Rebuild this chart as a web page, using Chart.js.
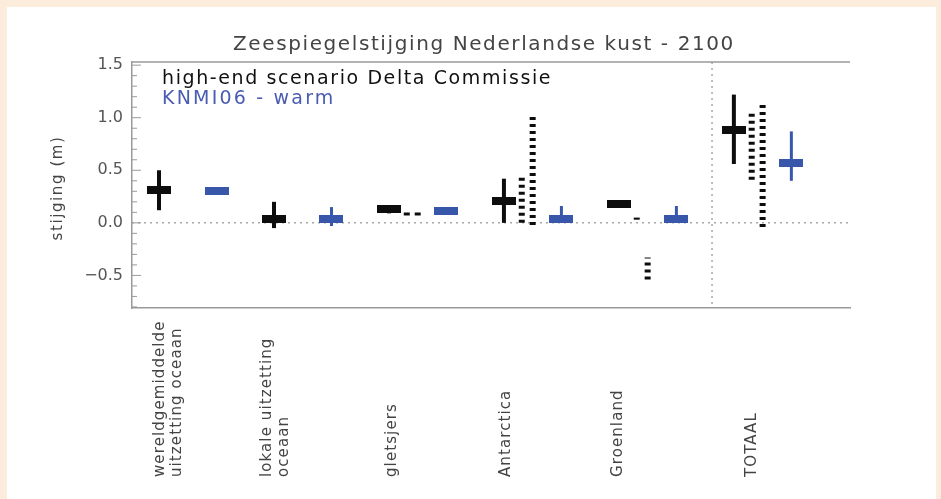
<!DOCTYPE html>
<html>
<head>
<meta charset="utf-8">
<script src="https://cdn.jsdelivr.net/npm/chart.js@4.4.1/dist/chart.umd.min.js"></script>
<style>
  html, body { margin: 0; padding: 0; background: #fcecdc; }
  #panel { position: absolute; left: 7px; top: 7px; width: 929px; height: 492px; background: #fff; }
</style>
</head>
<body>
<div id="panel"><canvas id="chart" width="929" height="492"></canvas></div>
<script>
// categories (two-line labels as arrays)
const categories = [
  ['wereldgemiddelde', 'uitzetting oceaan'],
  ['lokale uitzetting', 'oceaan'],
  ['gletsjers'],
  ['Antarctica'],
  ['Groenland'],
  ['TOTAAL']
];

// high-end scenario Delta Commissie: central value and range (m)
const deltaMid  = [0.31, 0.04, 0.13, 0.21, 0.18, 0.88];
const deltaLow  = [0.12, -0.05, 0.09, 0.00, 0.16, 0.56];
const deltaHigh = [0.50, 0.20, 0.17, 0.42, 0.20, 1.22];

// KNMI06 - warm: central value and range (m)
const knmiMid  = [0.30, 0.04, 0.11, 0.04, 0.04, 0.57];
const knmiLow  = [0.27, -0.03, 0.08, 0.00, 0.00, 0.40];
const knmiHigh = [0.34, 0.15, 0.14, 0.16, 0.16, 0.87];

// dotted columns next to the Delta values (two per category)
const dashLow1  = [null, null, 0.07, 0.00, 0.03, 0.41];
const dashHigh1 = [null, null, 0.13, 0.46, 0.05, 1.07];
const dashLow2  = [null, null, 0.07, -0.02, -0.54, -0.04];
const dashHigh2 = [null, null, 0.13, 1.04, -0.33, 1.15];

const yTickValues = [-0.5, 0.0, 0.5, 1.0, 1.5];

const title = 'Zeespiegelstijging Nederlandse kust - 2100';
const legendDelta = 'high-end scenario Delta Commissie';
const legendKnmi = 'KNMI06 - warm';
const yTitle = 'stijging (m)';

// layout / style
const BLACK = '#0d0d0d';
const BLUE = '#3857ab';
const FONT = '"DejaVu Sans", sans-serif';
const labelShift = [0.08, 0.01, 0.03, 0.02, -0.01, 0.16];
const separatorAt = 4.81;

function markerImage(color) {
  const c = document.createElement('canvas');
  c.width = 24; c.height = 8;
  const g = c.getContext('2d');
  g.fillStyle = color;
  g.fillRect(0, 0, 24, 8);
  return c;
}

function rangeLine(x, lo, hi, color, width, dash, order) {
  return {
    type: 'line',
    data: [{x: x, y: lo}, {x: x, y: hi}],
    showLine: true,
    borderColor: color,
    borderWidth: width,
    borderDash: dash || [],
    borderCapStyle: 'butt',
    pointRadius: 0,
    order: order
  };
}

const datasets = [];
categories.forEach((c, i) => {
  datasets.push(rangeLine(i, deltaLow[i], deltaHigh[i], BLACK, 4, null, 1));
  datasets.push(rangeLine(i + 0.5, knmiLow[i], knmiHigh[i], BLUE, 3, null, 1));
  if (dashLow1[i] !== null) datasets.push(rangeLine(i + 0.155, dashLow1[i], dashHigh1[i], BLACK, 6, [3, 4], 2));
  if (dashLow2[i] !== null) datasets.push(rangeLine(i + 0.25, dashLow2[i], dashHigh2[i], BLACK, 6, [3, 4], 2));
});
datasets.push({
  data: deltaMid.map((v, i) => ({x: i, y: v})),
  pointStyle: markerImage(BLACK), pointRadius: 6, order: 0
});
datasets.push({
  data: knmiMid.map((v, i) => ({x: i + 0.5, y: v})),
  pointStyle: markerImage(BLUE), pointRadius: 6, order: 0
});

const decor = {
  id: 'decor',
  beforeDatasetsDraw(chart) {
    const {ctx, chartArea: a, scales: {x, y}} = chart;
    ctx.save();
    ctx.strokeStyle = '#a8a8a8';
    ctx.lineWidth = 1.5;
    ctx.setLineDash([2, 4]);
    const y0 = y.getPixelForValue(0);
    ctx.beginPath(); ctx.moveTo(a.left, y0); ctx.lineTo(a.right, y0); ctx.stroke();
    const xs = x.getPixelForValue(separatorAt);
    ctx.beginPath(); ctx.moveTo(xs, a.top); ctx.lineTo(xs, a.bottom); ctx.stroke();
    ctx.setLineDash([]);
    ctx.strokeStyle = '#9a9a9a';
    ctx.beginPath(); ctx.moveTo(a.left, a.top); ctx.lineTo(a.right, a.top); ctx.stroke();
    // inside ticks on the y axis
    ctx.lineWidth = 1;
    for (let k = -8; k <= 15; k++) {
      const py = y.getPixelForValue(k / 10);
      const len = k % 5 === 0 ? 9 : 5;
      ctx.beginPath(); ctx.moveTo(a.left, py); ctx.lineTo(a.left + len, py); ctx.stroke();
    }
    ctx.restore();
  },
  afterDraw(chart) {
    const {ctx, chartArea: a, scales: {x}} = chart;
    ctx.save();
    ctx.textBaseline = 'middle';

    // title, centred on the panel
    ctx.textAlign = 'center';
    ctx.font = '20px ' + FONT;
    ctx.letterSpacing = '1.6px';
    ctx.fillStyle = '#444';
    ctx.fillText(title, 477, 38);

    // y axis title
    ctx.save();
    ctx.font = '15px ' + FONT;
    ctx.letterSpacing = '1.6px';
    ctx.translate(51, 181);
    ctx.rotate(-Math.PI / 2);
    ctx.fillText(yTitle, 0, 0);
    ctx.restore();

    // legend texts
    ctx.textAlign = 'left';
    ctx.font = '19px ' + FONT;
    ctx.letterSpacing = '1.6px';
    ctx.fillStyle = '#111';
    ctx.fillText(legendDelta, a.left + 30, a.top + 17);
    ctx.font = '19px ' + FONT;
    ctx.letterSpacing = '2.2px';
    ctx.fillStyle = '#4a5cb2';
    ctx.fillText(legendKnmi, a.left + 30, a.top + 37);

    // category labels, rotated, anchored at the bottom
    ctx.font = '15px ' + FONT;
    ctx.letterSpacing = '1.1px';
    ctx.fillStyle = '#444';
    categories.forEach((lines, i) => {
      const px = x.getPixelForValue(i + labelShift[i]);
      ctx.save();
      ctx.translate(px, 470);
      ctx.rotate(-Math.PI / 2);
      lines.forEach((t, j) => {
        ctx.fillText(t, 0, (j - (lines.length - 1) / 2) * 17);
      });
      ctx.restore();
    });
    ctx.restore();
  }
};

new Chart(document.getElementById('chart'), {
  type: 'scatter',
  data: {datasets: datasets},
  plugins: [decor],
  options: {
    responsive: false,
    animation: false,
    events: [],
    layout: {padding: {left: 0, right: 86, top: 55, bottom: 0}},
    plugins: {
      legend: {display: false},
      tooltip: {enabled: false},
      title: {display: false}
    },
    scales: {
      x: {
        type: 'linear',
        min: -0.235,
        max: 6.01,
        ticks: {display: false},
        grid: {display: false},
        border: {display: true, color: '#9a9a9a', width: 1.5},
        afterFit(scale) { scale.height = 191; }
      },
      y: {
        min: -0.81,
        max: 1.53,
        afterBuildTicks(scale) { scale.ticks = yTickValues.map(v => ({value: v})); },
        ticks: {
          color: '#555',
          font: {family: FONT, size: 16},
          padding: 9,
          callback: v => v.toFixed(1).replace('-', '\u2212')
        },
        grid: {display: false, drawTicks: false},
        border: {display: true, color: '#9a9a9a', width: 1.5},
        afterFit(scale) { scale.width = 125; }
      }
    }
  }
});
</script>
</body>
</html>
